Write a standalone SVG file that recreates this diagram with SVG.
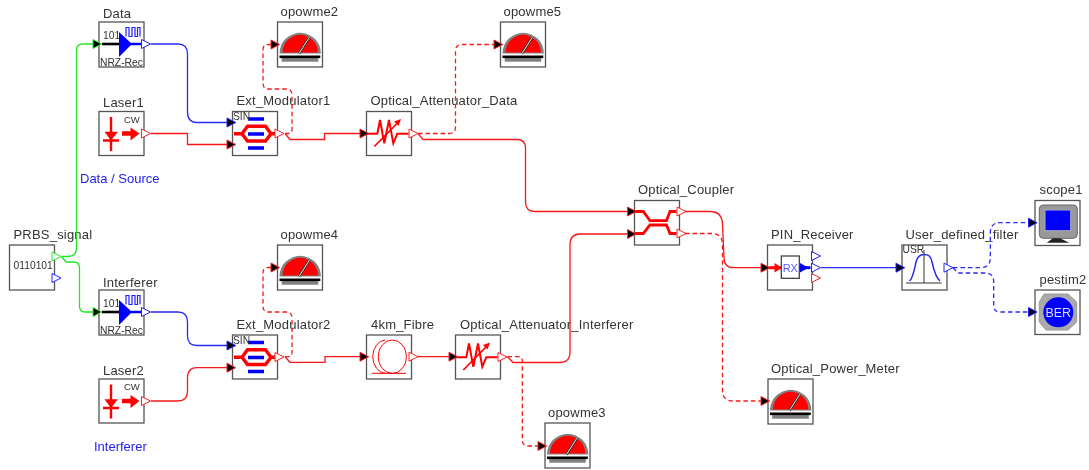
<svg xmlns="http://www.w3.org/2000/svg" width="1089" height="470" viewBox="0 0 1089 470">
<style>
text{font-family:"Liberation Sans",Arial,sans-serif;fill:#333}
.lb{font-size:13px;letter-spacing:.2px}
.sm{font-size:10.3px}
.note{font-size:13px;fill:#2222ee}
.box{fill:#fff;stroke:#555;stroke-width:1.3}
.c{fill:none;stroke-width:1.3}
.r{stroke:#f81818}.b{stroke:#2a2af8}.g{stroke:#22e822}
.d{stroke-dasharray:4.5 3}
.ar{marker-end:url(#mr)}.ab{marker-end:url(#mb)}.ag{marker-end:url(#mg)}
.pr{fill:#fff;stroke:#f22;stroke-width:1}.pb{fill:#fff;stroke:#22f;stroke-width:1}.pg{fill:#fff;stroke:#2e2;stroke-width:1}
</style>
<defs>
<filter id="soft" filterUnits="userSpaceOnUse" x="0" y="0" width="1089" height="470" color-interpolation-filters="sRGB"><feGaussianBlur stdDeviation="0.35"/></filter>
<marker id="mr" markerUnits="userSpaceOnUse" markerWidth="12" markerHeight="12" refX="10" refY="6" orient="auto"><path d="M1.500 1.500L10 6L1.500 10.500Z" fill="#000" stroke="#f22" stroke-width="1"/></marker>
<marker id="mb" markerUnits="userSpaceOnUse" markerWidth="12" markerHeight="12" refX="10" refY="6" orient="auto"><path d="M1.500 1.500L10 6L1.500 10.500Z" fill="#000" stroke="#22f" stroke-width="1"/></marker>
<marker id="mg" markerUnits="userSpaceOnUse" markerWidth="12" markerHeight="12" refX="10" refY="6" orient="auto"><path d="M1.500 1.500L10 6L1.500 10.500Z" fill="#000" stroke="#2e2" stroke-width="1"/></marker>
<path id="tri" d="M0 -4.500L9 0L0 4.500Z"/>
<g id="nrz">
<rect class="box" width="45" height="45"/>
<text class="sm" x="4" y="17">101</text>
<path d="M27 14.500V5.500H30V14.500H33V5.500H36V14.500H38.500V5.500H41V14.500" fill="none" stroke="#22f" stroke-width="1.200"/>
<path d="M3 22H21" stroke="#000" stroke-width="2.600"/>
<path d="M20 10V35L33 22Z" fill="#00f"/>
<path d="M32 22H43" stroke="#00f" stroke-width="2.500"/>
<text class="sm" x="1" y="43.500">NRZ-Rec</text>
<use href="#tri" x="42.500" y="22" class="pb"/>
</g>
<g id="laser">
<rect class="box" width="45" height="44"/>
<path d="M12 5.500V39.500M4 29H20" stroke="#f00" stroke-width="2.400" fill="none"/>
<path d="M5.500 20.200H19L12 29Z" fill="#f00"/>
<path d="M23 22H33" stroke="#f00" stroke-width="4.500"/>
<path d="M31.500 16L40.500 22L31.500 29Z" fill="#f00"/>
<text x="25" y="11" style="font-size:9.500px">CW</text>
<use href="#tri" x="42.500" y="22" class="pr"/>
</g>
<g id="mod">
<rect class="box" width="45" height="44"/>
<path d="M15.500 7.500H31.500M15.500 22.500H31.500M15.500 36.500H31.500" stroke="#00f" stroke-width="3.400"/>
<path d="M9.500 22.200L15 14.800H33L38.500 22.200L33 29.500H15Z M1.500 22.200H9.500M38.500 22.200H44" fill="none" stroke="#f00" stroke-width="3.400"/>
<text class="sm" x="0.500" y="8.500">SIN</text>
<use href="#tri" x="42.500" y="22" class="pr"/>
</g>
<g id="meter">
<rect class="box" width="45" height="45"/>
<path d="M2 31.500A20.700 20.700 0 0 1 43.400 31.500Z" fill="#808080"/>
<path d="M5 30.500A17.700 17.700 0 0 1 40.400 30.500Z" fill="#f00"/>
<rect x="4.200" y="36" width="36.600" height="3.700" fill="#808080"/>
<rect x="2" y="33.500" width="40.800" height="2.600" fill="#000"/>
<path d="M21.500 31.500L31.800 15.300" stroke="#333" stroke-width="2.400"/>
<path d="M21.500 31.500L31.800 15.300" stroke="#eee" stroke-width="0.900"/>
</g>
<g id="att">
<rect class="box" width="45" height="44"/>
<path d="M0.500 22.200H10.800L13.500 8.500L17.800 31.800L22.500 8.500L26.800 31.800L30.800 22.200H42" fill="none" stroke="#f00" stroke-width="2"/>
<path d="M7.800 35L33 9.500" stroke="#f00" stroke-width="1.700"/>
<path d="M34.500 7.500L27.500 10L32 14.500Z" fill="#f00"/>
<use href="#tri" x="42.500" y="22" class="pr"/>
</g>
</defs>
<g filter="url(#soft)">
<g id="labels-free">
<text class="note" x="80" y="183">Data / Source</text>
<text class="note" x="94" y="451">Interferer</text>
</g>
<g id="PRBS_signal" transform="translate(9.500 245)">
<rect class="box" width="45" height="45"/>
<text class="sm" x="4" y="24">0110101</text>
<use href="#tri" x="42.500" y="11.500" class="pg"/>
<use href="#tri" x="42.500" y="33" class="pb"/>
<text class="lb" x="4" y="-6">PRBS_signal</text>
</g>
<g id="Data" transform="translate(99 22)"><use href="#nrz"/><text class="lb" x="4" y="-4">Data</text></g>
<g id="Interferer" transform="translate(99 290)"><use href="#nrz"/><text class="lb" x="4" y="-3">Interferer</text></g>
<g id="Laser1" transform="translate(99 111.500)"><use href="#laser"/><text class="lb" x="4" y="-4.500">Laser1</text></g>
<g id="Laser2" transform="translate(99 379)"><use href="#laser"/><text class="lb" x="4" y="-4">Laser2</text></g>
<g id="Ext_Modulator1" transform="translate(232.500 111.500)"><use href="#mod"/><text class="lb" x="4" y="-6.500">Ext_Modulator1</text></g>
<g id="Ext_Modulator2" transform="translate(232.500 335)"><use href="#mod"/><text class="lb" x="4" y="-6">Ext_Modulator2</text></g>
<g id="opowme2" transform="translate(277.500 22)"><use href="#meter"/><text class="lb" x="3" y="-6">opowme2</text></g>
<g id="opowme4" transform="translate(277.500 245)"><use href="#meter"/><text class="lb" x="3" y="-6">opowme4</text></g>
<g id="opowme5" transform="translate(500.500 22)"><use href="#meter"/><text class="lb" x="3" y="-6">opowme5</text></g>
<g id="opowme3" transform="translate(545 423)"><use href="#meter"/><text class="lb" x="3" y="-6">opowme3</text></g>
<g id="Optical_Power_Meter" transform="translate(768 379)"><use href="#meter"/><text class="lb" x="3" y="-6">Optical_Power_Meter</text></g>
<g id="Optical_Attenuator_Data" transform="translate(366.500 111.500)"><use href="#att"/><text class="lb" x="4" y="-6.500">Optical_Attenuator_Data</text></g>
<g id="Optical_Attenuator_Interferer" transform="translate(455.500 335)"><use href="#att"/><text class="lb" x="4.500" y="-6">Optical_Attenuator_Interferer</text></g>
<g id="Fibre_4km" transform="translate(366.500 335)">
<rect class="box" width="45" height="44"/>
<ellipse cx="25.800" cy="21.700" rx="14" ry="16.700" fill="none" stroke="#f00" stroke-width="1"/>
<path d="M18.500 5A13.300 16.700 0 0 0 18.500 38.300M5.200 38.300H39.500" fill="none" stroke="#f00" stroke-width="1"/>
<use href="#tri" x="42.500" y="21.700" class="pr"/>
<text class="lb" x="4.500" y="-6">4km_Fibre</text>
</g>
<g id="Optical_Coupler" transform="translate(634.500 200.500)">
<rect class="box" width="45" height="44.500"/>
<path d="M0.500 11H8.800L15.500 20.200H32L35.500 11H42M0.500 33H8.800L15.500 24.500H32L35.500 33H42" fill="none" stroke="#f00" stroke-width="2.800"/>
<use href="#tri" x="42.500" y="11" class="pr"/>
<use href="#tri" x="42.500" y="33" class="pr"/>
<text class="lb" x="3.500" y="-6.500">Optical_Coupler</text>
</g>
<g id="PIN_Receiver" transform="translate(767.500 245)">
<rect class="box" width="45" height="45"/>
<path d="M1 22.700H14" stroke="#f00" stroke-width="3"/>
<path d="M7 18L14.500 22.700L7 27.500Z" fill="#f00"/>
<rect x="13.800" y="11" width="18" height="22.300" fill="#fff" stroke="#333" stroke-width="1.200"/>
<text x="22.800" y="26.500" text-anchor="middle" style="font-size:11px;fill:#5555ff">RX</text>
<path d="M32 22.700H43" stroke="#00f" stroke-width="3"/>
<path d="M32.500 18L41 22.700L32.500 27.500Z" fill="#00f"/>
<use href="#tri" x="44" y="11" class="pb"/>
<use href="#tri" x="44" y="22.700" class="pb"/>
<use href="#tri" x="44" y="33" class="pr"/>
<text class="lb" x="3.500" y="-6.300">PIN_Receiver</text>
</g>
<g id="User_defined_filter" transform="translate(902 245)">
<rect class="box" width="45" height="45"/>
<text class="sm" x="0.500" y="8.300">USR</text>
<path d="M22 5V38M4 38H39.700" fill="none" stroke="#333" stroke-width="1"/>
<path d="M7.500 36C11 33 12 26 14 17C15.500 11 18 9.500 22 9.500C27 9.500 28.500 11 30 17C32 26 34 33 38 36" fill="none" stroke="#2a2af0" stroke-width="1.500"/>
<use href="#tri" x="42" y="22.700" class="pb"/>
<text class="lb" x="3.500" y="-6.300">User_defined_filter</text>
</g>
<g id="scope1" transform="translate(1035 200.500)">
<rect class="box" width="45" height="45"/>
<rect x="4.300" y="4.500" width="38" height="33.300" rx="4" fill="#999" stroke="#666" stroke-width="1"/>
<rect x="10" y="9.500" width="25.700" height="20.700" fill="#00f" stroke="#aab" stroke-width="1"/>
<path d="M11.700 42.200L18 37.800H25L34.300 42.200Z" fill="#222"/>
<text class="lb" x="4.500" y="-6.500">scope1</text>
</g>
<g id="pestim2" transform="translate(1035 290)">
<rect class="box" width="45" height="44.500"/>
<path d="M9 4H33L41.700 12V32L33 40H11L4.300 32V12Z" fill="#aaa" stroke="#999"/>
<circle cx="23.300" cy="22.300" r="15" fill="#00f"/>
<text x="23.300" y="27" text-anchor="middle" style="font-size:12.500px;fill:#dde">BER</text>
<text class="lb" x="4.500" y="-6.500">pestim2</text>
</g>
<g id="connectors">
<path class="c g ag" d="M61.500 256.500H68Q76.500 256.500 76.500 248V50Q76.500 44 83 44H101.500"/>
<path class="c g ag" d="M61.500 256.500L66 262H74Q79.500 262 79.500 268V306Q79.500 312 85 312H101.500"/>
<path class="c b ab" d="M151 44H178Q187.500 44 187.500 54V112Q187.500 122.500 197 122.500H235.500"/>
<path class="c r ar" d="M151 133.500H187.500V144.500H235.500"/>
<path class="c r ar" d="M285 133.500L290 139.500H324.500V133.500H368.500"/>
<path class="c r d ar" d="M285 133.500H288Q292 133.500 292 129V95Q292 89 286 89H268Q263 89 263 83V50Q263 44.500 268 44.500H279.500"/>
<path class="c r d ar" d="M418 133.500H449Q455.500 133.500 455.500 127V51Q455.500 44.500 462 44.500H502.500"/>
<path class="c r ar" d="M418 133.500L423 139.500H517Q525.500 139.500 525.500 148V202Q525.500 211.500 535 211.500H636"/>
<path class="c b ab" d="M151 312H178Q187.500 312 187.500 322V336Q187.500 345.500 197 345.500H235.500"/>
<path class="c r ar" d="M151 401H178Q187.500 401 187.500 391V378Q187.500 367.700 197 367.700H235.500"/>
<path class="c r ar" d="M285 356.700L290 362.300H325V356.700H368.500"/>
<path class="c r d ar" d="M285 356.700H288Q292 356.700 292 352V318Q292 312 286 312H268Q263 312 263 306V273Q263 267.500 268 267.500H279.500"/>
<path class="c r ar" d="M418 356.700H457.500"/>
<path class="c r ar" d="M507.500 356.700L513 362.500H560Q570 362.500 570 352V245Q570 234 580 234H636"/>
<path class="c r d ar" d="M507.500 356.700H518Q522.300 356.700 522.300 361V440Q522.300 446 528 446H546.500"/>
<path class="c r ar" d="M685 211.500H710Q722 211.500 722.500 224L724 258Q724 267.700 734 267.700H769.500"/>
<path class="c r d ar" d="M685 233.500H712Q722 233.500 722.500 244V390Q722.500 401 733 401H769.500"/>
<path class="c b ab" d="M821 267.700H904.500"/>
<path class="c b d ab" d="M953 267.700H980Q990.300 267.700 990.300 258V233Q990.300 222.700 1000 222.700H1037"/>
<path class="c b d ab" d="M953 267.700L958 273H985Q993.700 273 993.700 282V305Q993.700 312 1000 312H1037"/>
</g>
</g>
</svg>
